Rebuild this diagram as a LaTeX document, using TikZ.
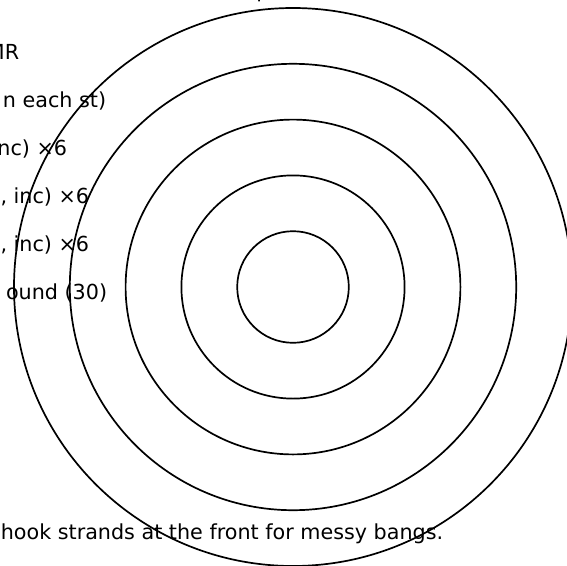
\documentclass[tikz,border=0pt]{standalone}
\usepackage{fontspec}
\setmainfont{DejaVu Sans}

\begin{document}
\begin{tikzpicture}[x=1pt, y=-1pt, line width=1.7pt,
    note/.style={anchor=base east, inner sep=0pt,
                 font=\fontsize{20.7}{25}\selectfont},
    ring/.style={draw=black}]
  \useasboundingbox (0,0) rectangle (567,565);
  \clip (0,0) rectangle (567,565);

  % cut-off pattern lines on the left
  \node[note, anchor=base] (title) at (263,-3) {p};
  \node[note] (rndOne)   at (20,59)  {MR};
  \node[note] (rndTwo)   at (107,107) {n each st)};
  \node[note] (rndThree) at (68,155) {nc) ×6};
  \node[note] (rndFour)  at (90,203) {, inc) ×6};
  \node[note] (rndFive)  at (90,251) {, inc) ×6};
  \node[note] (rndTotal) at (108,299) {ound (30)};
  \node[note, anchor=base west] (tip) at (0,539)
    {hook strands at the front for messy bangs.};

  % rounds seen from above
  \coordinate (centre) at (293,287);
  \foreach \r in {1,...,5}
    \draw[ring] (centre) circle ({55.8*\r});
\end{tikzpicture}
\end{document}
